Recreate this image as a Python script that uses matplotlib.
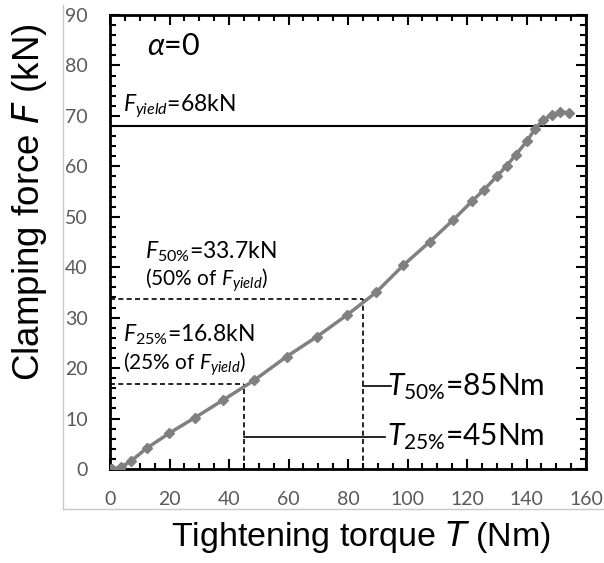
import matplotlib
matplotlib.use("Agg")
import matplotlib.pyplot as plt
from matplotlib.lines import Line2D
from matplotlib.ticker import MultipleLocator

plt.rcParams["font.family"] = ["Lato", "DejaVu Sans"]
plt.rcParams["mathtext.fontset"] = "custom"
plt.rcParams["mathtext.rm"] = "Lato"
plt.rcParams["mathtext.it"] = "Lato:italic"
plt.rcParams["mathtext.fallback"] = "stixsans"

# measured tightening curve
torque = [0.2, 0.8, 3.6, 7.1, 12.3, 19.9, 28.6, 38.1, 48.5, 59.4, 69.5, 79.6,
          89.4, 98.6, 107.4, 115.4, 121.7, 125.8, 130.0, 133.3, 136.4, 140.3,
          142.9, 145.7, 148.5, 151.3, 154.4]
force = [0.0, 0.0, 0.3, 1.6, 4.1, 7.1, 10.2, 13.7, 17.6, 22.3, 26.2, 30.5,
         35.0, 40.4, 45.0, 49.4, 53.1, 55.4, 58.0, 60.1, 62.3, 65.1, 67.5,
         69.2, 70.2, 70.8, 70.6]

f_yield = 68
f_50, t_50 = 33.7, 85
f_25, t_25 = 16.8, 45

fig = plt.figure(figsize=(6.04, 5.63), dpi=100)
ax = fig.add_axes([110 / 604, 1 - 469 / 563, 476 / 604, 454 / 563])

ax.plot(torque, force, color="#808080", lw=2.5, marker="D", ms=5,
        mec="#808080", mfc="#808080", zorder=3)

# yield level
ax.axhline(f_yield, color="black", lw=1.5, zorder=2)

# 50% / 25% guide lines
dash = dict(color="black", lw=1.2, ls=(0, (3, 2)), zorder=2)
ax.plot([0, t_50], [f_50, f_50], **dash)
ax.plot([t_50, t_50], [0, f_50], **dash)
ax.plot([0, t_25], [f_25, f_25], **dash)
ax.plot([t_25, t_25], [0, f_25], **dash)

# leaders to the torque labels
ax.plot([t_50, 94.5], [16.5, 16.5], color="black", lw=1.2)
ax.plot([t_25, 92.5], [6.4, 6.4], color="black", lw=1.2)

ax.text(12.4, 83.9, r"$\alpha$=0", fontsize=22, va="center", ha="left")
ax.text(4.4, 70.8, r"$F_{\mathit{yield}}$=68kN", fontsize=16.5)
ax.text(11.8, 41.8, r"$F_{\mathit{50\%}}$=33.7kN", fontsize=16.5)
ax.text(11.8, 36.4, r"(50% of $F_{\mathit{yield}}$)", fontsize=15)
ax.text(4.4, 25.2, r"$F_{\mathit{25\%}}$=16.8kN", fontsize=16.5)
ax.text(4.4, 19.7, r"(25% of $F_{\mathit{yield}}$)", fontsize=15)
ax.text(93.0, 14.7, r"$T_{\mathit{50\%}}$=85Nm", fontsize=21.5)
ax.text(93.0, 4.8, r"$T_{\mathit{25\%}}$=45Nm", fontsize=21.5)

ax.set_xlim(0, 160)
ax.set_ylim(0, 90)
ax.xaxis.set_major_locator(MultipleLocator(20))
ax.xaxis.set_minor_locator(MultipleLocator(5))
ax.yaxis.set_major_locator(MultipleLocator(10))
ax.yaxis.set_minor_locator(MultipleLocator(2))
ax.tick_params(which="both", direction="in", top=True, right=True,
               width=1.5, colors="black", labelcolor="#595959", labelsize=14)
ax.tick_params(which="major", length=7)
ax.tick_params(which="minor", length=4)
ax.tick_params(axis="x", pad=16)
ax.tick_params(axis="y", pad=16)
for s in ax.spines.values():
    s.set_linewidth(2)

fig.text(361 / 604, 1 - 537 / 563, r"Tightening torque $\mathit{T}$ (Nm)",
         fontsize=24.5, family="Liberation Sans", ha="center", va="center",
         math_fontfamily="dejavusans")
fig.text(30 / 604, 1 - 202 / 563, r"Clamping force $\mathit{F}$ (kN)",
         fontsize=26.5, family="Liberation Sans", ha="center", va="center",
         rotation=90, math_fontfamily="dejavusans")

# light outer frame
gray = "#c8c8c8"
fig.add_artist(Line2D([63 / 604, 63 / 604], [1 - 5 / 563, 1 - 509 / 563],
                      color=gray, lw=1, transform=fig.transFigure))
fig.add_artist(Line2D([63 / 604, 1], [1 - 509 / 563, 1 - 509 / 563],
                      color=gray, lw=1, transform=fig.transFigure))

fig.savefig("out.png", dpi=100)
